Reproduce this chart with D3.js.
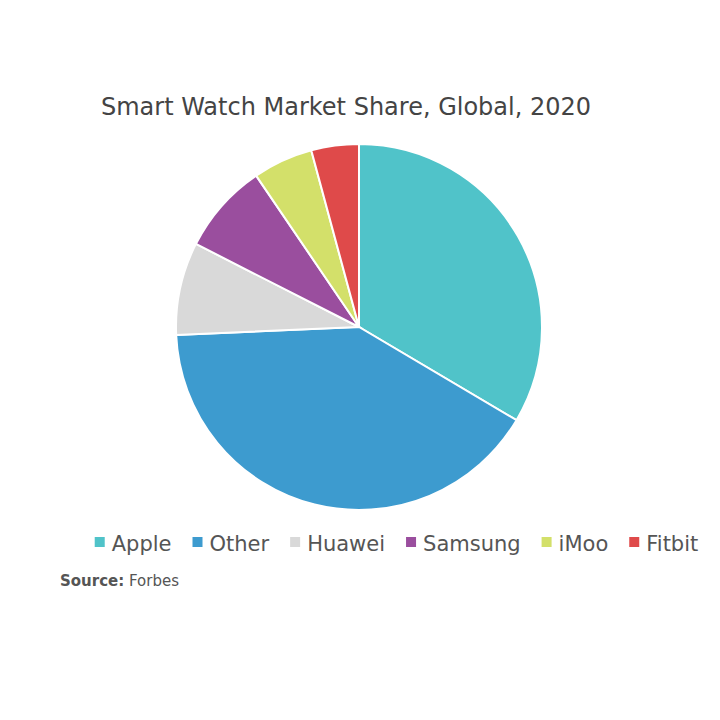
<!DOCTYPE html>
<html>
<head>
<meta charset="utf-8">
<script src="https://cdn.jsdelivr.net/npm/d3@7"></script>
<style>
  body { margin: 0; background: #fff; }
</style>
</head>
<body>
<div id="chart"></div>
<script>
const categories = ["Apple", "Other", "Huawei", "Samsung", "iMoo", "Fitbit"];
const shares = [33.5, 40.8, 8.2, 8.0, 5.3, 4.2];
const colors = ["#50c3c9", "#3d9bcf", "#d9d9d9", "#9a4e9e", "#d3e06a", "#df4a4a"];

const width = 720;
const height = 720;
const center = { x: 359, y: 327 };
const radius = 183;

const data = categories.map((c, i) => ({ name: c, value: shares[i] }));

const svg = d3.select("#chart").append("svg")
    .attr("width", width)
    .attr("height", height);

svg.append("text")
    .attr("x", 346)
    .attr("y", 115)
    .attr("text-anchor", "middle")
    .style("font-family", "'DejaVu Sans', sans-serif")
    .style("font-size", "24px")
    .style("fill", "#444")
    .text("Smart Watch Market Share, Global, 2020");

const pie = d3.pie().sort(null).value(d => d.value);
const arc = d3.arc().innerRadius(0).outerRadius(radius);
const color = d3.scaleOrdinal().domain(categories).range(colors);

const g = svg.append("g")
    .attr("transform", `translate(${center.x},${center.y})`);

g.selectAll("path")
    .data(pie(data))
    .enter()
    .append("path")
    .attr("d", arc)
    .attr("fill", d => color(d.data.name))
    .attr("stroke", "#fff")
    .attr("stroke-width", 2);

// legend, laid out left to right
const legend = svg.append("g").attr("class", "legend");
let x = 0;
categories.forEach(c => {
    const item = legend.append("g").attr("transform", `translate(${x},0)`);
    item.append("rect")
        .attr("x", 0)
        .attr("y", -14)
        .attr("width", 10)
        .attr("height", 10)
        .attr("fill", color(c));
    const t = item.append("text")
        .attr("x", 17)
        .attr("y", 0)
        .style("font-family", "'DejaVu Sans', sans-serif")
        .style("font-size", "21px")
        .style("fill", "#555")
        .text(c);
    x += 17 + t.node().getComputedTextLength() + 21;
});
const legendWidth = x - 21;
legend.attr("transform", `translate(${(93 + 700) / 2 - legendWidth / 2},551)`);

const source = svg.append("text")
    .attr("x", 60)
    .attr("y", 586)
    .style("font-family", "'DejaVu Sans', sans-serif")
    .style("font-size", "15px")
    .style("fill", "#555");
source.append("tspan").style("font-weight", "bold").text("Source:");
source.append("tspan").text(" Forbes");
</script>
</body>
</html>
